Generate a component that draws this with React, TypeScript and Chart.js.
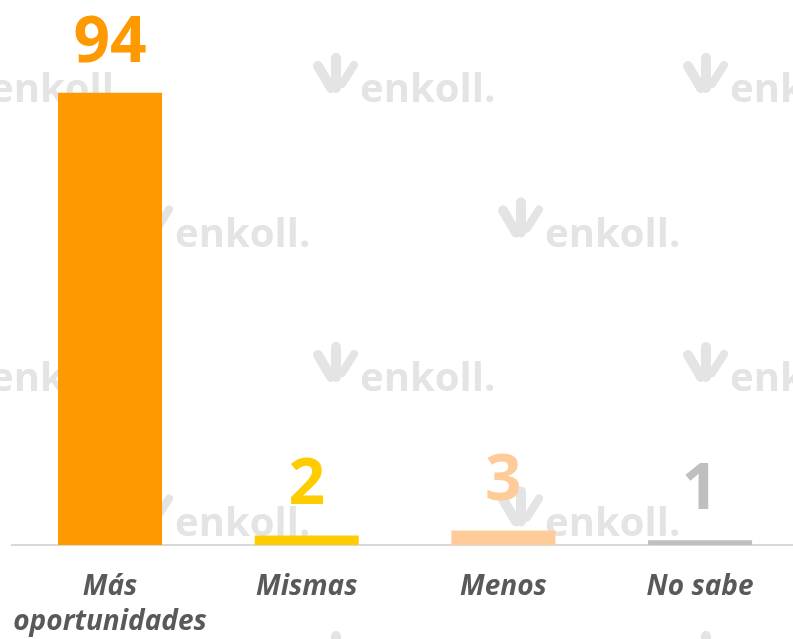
import React, { useEffect, useRef } from "react";
import { Chart, registerables } from "chart.js";

Chart.register(...registerables);

const categories: (string | string[])[] = [["Más", "oportunidades"], "Mismas", "Menos", "No sabe"];
const values = [94, 2, 3, 1];
const barColors = ["#FF9900", "#FFCC00", "#FFCC99", "#BFBFBF"];
const watermarkText = "enkoll.";

export default function App() {
  const ref = useRef<HTMLCanvasElement>(null);

  useEffect(() => {
    if (!ref.current) return;

    const watermark = {
      id: "watermark",
      beforeDatasetsDraw(chart: any) {
        const ctx = chart.ctx;
        ctx.save();
        const rowsY = [102, 246.5, 391, 535.5, 680];
        rowsY.forEach((by, r) => {
          const xs = r % 2 === 0 ? [-57, 313, 683] : [128, 498, 868];
          xs.forEach((lx) => {
            ctx.strokeStyle = "#e4e4e4";
            ctx.lineCap = "round";
            ctx.lineWidth = 10;
            ctx.beginPath();
            ctx.moveTo(lx + 5, by - 36);
            ctx.lineTo(lx + 18, by - 14);
            ctx.stroke();
            ctx.beginPath();
            ctx.moveTo(lx + 23, by - 44);
            ctx.lineTo(lx + 23, by - 14);
            ctx.stroke();
            ctx.lineWidth = 8;
            ctx.beginPath();
            ctx.moveTo(lx + 29, by - 18);
            ctx.lineTo(lx + 41, by - 37);
            ctx.stroke();
            ctx.fillStyle = "#e4e4e4";
            ctx.font = "bold 40px 'Open Sans'";
            ctx.textAlign = "left";
            ctx.textBaseline = "alphabetic";
            ctx.fillText(watermarkText, lx + 47, by);
          });
        });
        ctx.restore();
      },
    };

    const valueLabels = {
      id: "valueLabels",
      afterDatasetsDraw(chart: any) {
        const ctx = chart.ctx;
        const meta = chart.getDatasetMeta(0);
        ctx.save();
        ctx.font = "bold 64px 'Open Sans'";
        ctx.textAlign = "center";
        ctx.textBaseline = "alphabetic";
        meta.data.forEach((el: any, i: number) => {
          ctx.fillStyle = barColors[i];
          ctx.fillText(String(values[i]), el.x, el.y - 31);
        });
        ctx.restore();
      },
    };

    const chart = new Chart(ref.current, {
      type: "bar",
      data: {
        labels: categories,
        datasets: [
          {
            data: values,
            backgroundColor: barColors,
            borderWidth: 0,
            barPercentage: 0.529,
            categoryPercentage: 1,
          },
        ],
      },
      options: {
        responsive: false,
        animation: false,
        layout: { padding: { left: 11.7, right: 6.6, top: 64, bottom: 0 } },
        plugins: {
          legend: { display: false },
          tooltip: { enabled: false },
          title: { display: false },
        },
        scales: {
          x: {
            grid: { display: false, drawTicks: false },
            border: { display: true, color: "#d9d9d9", width: 2 },
            ticks: {
              color: "#595959",
              padding: 24,
              maxRotation: 0,
              autoSkip: false,
              font: { family: "'Open Sans'", size: 28, weight: "bold", style: "italic", lineHeight: 1.27 },
            },
            afterFit: (s: any) => {
              s.height = 94;
              s.paddingLeft = 0;
              s.paddingRight = 0;
            },
          },
          y: {
            display: false,
            min: 0,
            max: 100,
          },
        },
      },
      plugins: [watermark, valueLabels],
    } as any);

    return () => chart.destroy();
  }, []);

  return (
    <div
      style={{
        position: "fixed",
        left: 0,
        top: 0,
        width: 793,
        height: 639,
        overflow: "hidden",
        background: "#ffffff",
      }}
    >
      <canvas ref={ref} width={805} height={639} style={{ display: "block", width: 805, height: 639 }} />
    </div>
  );
}
